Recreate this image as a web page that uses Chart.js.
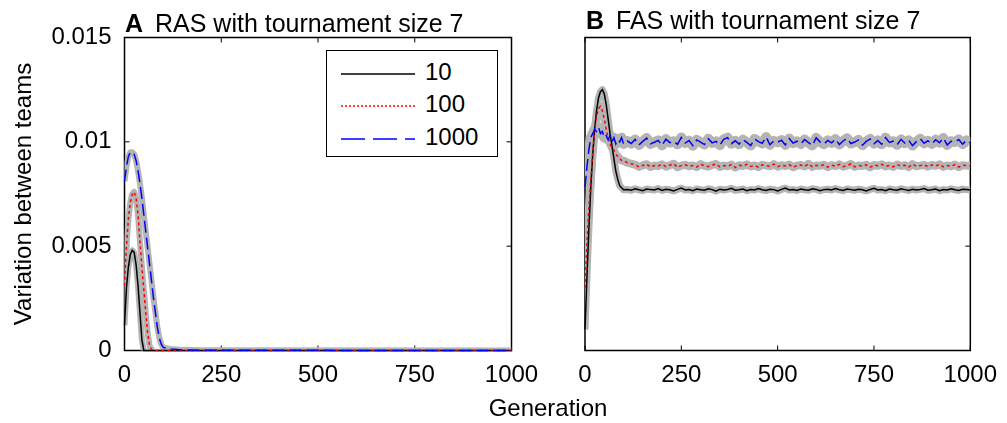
<!DOCTYPE html>
<html lang="en">
<head>
<meta charset="UTF-8">
<title>Variation between teams</title>
<style>
  body { margin: 0; background: #fff; font-family: 'Liberation Sans', Arial, sans-serif; }
  .wrap { position: relative; width: 1007px; height: 423px; overflow: hidden; }
  .wrap canvas { position: absolute; top: 0; }
  .ptitle { position: absolute; font-size: 25px; line-height: 1; white-space: nowrap; color: #000; }
  .ptitle b { margin-right: 5px; }
  .xlabel { position: absolute; left: 448px; top: 394px; width: 200px; text-align: center; font-size: 24px; line-height: 28px; }
  .legend { position: absolute; left: 326px; top: 50px; width: 170px; height: 105px; border: 1.5px solid #000; background: #fff; }
  .legend .row { position: absolute; left: 14px; height: 28px; font-size: 24px; line-height: 28px; }
  .legend svg { vertical-align: middle; margin-right: 10px; }
</style>
</head>
<body>
<div class="wrap">
  <canvas id="chartA" width="560" height="423" style="left:0"></canvas>
  <canvas id="chartB" width="477" height="423" style="left:530px"></canvas>
  <div class="ptitle" style="left:125px; top:11px"><b>A</b> RAS with tournament size 7</div>
  <div class="ptitle" style="left:586px; top:8px"><b>B</b> FAS with tournament size 7</div>
  <div class="xlabel">Generation</div>
  <div class="legend">
    <div class="row" style="top:7px"><svg width="74" height="4"><line x1="0" y1="2" x2="74" y2="2" stroke="#000" stroke-width="1.5"/></svg>10</div>
    <div class="row" style="top:39px"><svg width="74" height="4"><line x1="0" y1="2" x2="74" y2="2" stroke="#f00" stroke-width="1.5" stroke-dasharray="2 2"/></svg>100</div>
    <div class="row" style="top:72px"><svg width="74" height="4"><line x1="0" y1="2" x2="74" y2="2" stroke="#00f" stroke-width="1.5" stroke-dasharray="24 8"/></svg>1000</div>
  </div>
</div>
<script src="https://cdn.jsdelivr.net/npm/chart.js"></script>
<script>
// tick values and labels
const xTicks = [0, 250, 500, 750, 1000];
const xTickLabels = ['0', '250', '500', '750', '1000'];
const yTicks = [0, 0.005, 0.01, 0.015];
const yTickLabels = ['0', '0.005', '0.01', '0.015'];
const seriesNames = ['10', '100', '1000'];

// panel A: RAS
const leftGen = [0, 5, 10, 15, 20, 25, 30, 35, 40, 45, 50, 55, 60, 65, 70, 75, 80, 85, 90, 95, 100, 110, 120, 150, 200, 1000];
const rasSize10 = [0.0012, 0.0030, 0.0040, 0.0046, 0.0048, 0.0047, 0.0041, 0.0031, 0.0018, 0.0005, 0, 0, 0, 0, 0, 0, 0, 0, 0, 0, 0, 0, 0, 0, 0, 0];
const rasSize100 = [0.0031, 0.0050, 0.0063, 0.0071, 0.0075, 0.0076, 0.0073, 0.0065, 0.0052, 0.0040, 0.0029, 0.0018, 0.0008, 0.0002, 0.00005, 0, 0, 0, 0, 0, 0, 0, 0, 0, 0, 0];
const rasSize1000 = [0.0081, 0.0088, 0.0093, 0.0095, 0.0095, 0.0094, 0.0091, 0.0086, 0.0080, 0.0073, 0.0065, 0.0057, 0.0049, 0.0041, 0.0033, 0.0025, 0.0018, 0.0011, 0.0006, 0.0003, 0.00015, 0.0001, 0.00007, 0.00003, 0.00001, 0];

// panel B: FAS
const rightGen = [0, 5, 10, 15, 20, 25, 30, 35, 40, 45, 50, 55, 60, 65, 70, 75, 80, 85, 90, 95, 100,
  110, 120, 130, 140, 150, 160, 170, 180, 190, 200, 210, 220, 230, 240, 250, 260, 270, 280, 290, 300,
  310, 320, 330, 340, 350, 360, 370, 380, 390, 400, 410, 420, 430, 440, 450, 460, 470, 480, 490, 500,
  510, 520, 530, 540, 550, 560, 570, 580, 590, 600, 610, 620, 630, 640, 650, 660, 670, 680, 690, 700,
  710, 720, 730, 740, 750, 760, 770, 780, 790, 800, 810, 820, 830, 840, 850, 860, 870, 880, 890, 900,
  910, 920, 930, 940, 950, 960, 970, 980, 990, 1000];
const fasSize10 = [0.0010, 0.0035, 0.0058, 0.0078, 0.0094, 0.0106, 0.0115, 0.0121, 0.0124, 0.0125, 0.0123, 0.0118, 0.0111, 0.0104, 0.0098, 0.0092, 0.0086, 0.0082, 0.0079, 0.0078, 0.0077,
  0.00772, 0.00768, 0.00775, 0.00770, 0.00766, 0.00774, 0.00771, 0.00769, 0.00776, 0.00767,
  0.00773, 0.00770, 0.00765, 0.00772, 0.00778, 0.00769, 0.00771, 0.00766, 0.00774, 0.00770,
  0.00768, 0.00775, 0.00771, 0.00764, 0.00773, 0.00769, 0.00772, 0.00777, 0.00768, 0.00770,
  0.00774, 0.00766, 0.00771, 0.00769, 0.00776, 0.00770, 0.00767, 0.00773, 0.00771, 0.00765,
  0.00772, 0.00778, 0.00769, 0.00771, 0.00767, 0.00774, 0.00770, 0.00768, 0.00775, 0.00772,
  0.00766, 0.00771, 0.00773, 0.00769, 0.00776, 0.00770, 0.00767, 0.00774, 0.00771, 0.00768,
  0.00773, 0.00770, 0.00765, 0.00772, 0.00777, 0.00769, 0.00771, 0.00766, 0.00774, 0.00770,
  0.00768, 0.00775, 0.00771, 0.00767, 0.00773, 0.00769, 0.00772, 0.00776, 0.00768, 0.00770,
  0.00774, 0.00766, 0.00771, 0.00769, 0.00775, 0.00770, 0.00767, 0.00773, 0.00771, 0.00769];
const fasSize100 = [0.0030, 0.0052, 0.0068, 0.0082, 0.0095, 0.0105, 0.0112, 0.0116, 0.0117, 0.0115, 0.0111, 0.0106, 0.0102, 0.0099, 0.0097, 0.0096, 0.0094, 0.0093, 0.0092, 0.0091, 0.0091,
  0.00900, 0.00895, 0.00891, 0.00880, 0.00887, 0.00893, 0.00879, 0.00886, 0.00884, 0.00892,
  0.00881, 0.00888, 0.00895, 0.00878, 0.00886, 0.00890, 0.00883, 0.00887, 0.00879, 0.00893,
  0.00885, 0.00881, 0.00889, 0.00894, 0.00880, 0.00886, 0.00883, 0.00891, 0.00877, 0.00888,
  0.00884, 0.00892, 0.00882, 0.00887, 0.00879, 0.00890, 0.00886, 0.00883, 0.00893, 0.00881,
  0.00888, 0.00884, 0.00891, 0.00878, 0.00886, 0.00889, 0.00882, 0.00895, 0.00880, 0.00887,
  0.00885, 0.00890, 0.00879, 0.00888, 0.00883, 0.00892, 0.00881, 0.00886, 0.00894, 0.00880,
  0.00887, 0.00884, 0.00890, 0.00878, 0.00889, 0.00885, 0.00892, 0.00882, 0.00887, 0.00880,
  0.00891, 0.00884, 0.00888, 0.00879, 0.00893, 0.00883, 0.00886, 0.00890, 0.00881, 0.00889,
  0.00885, 0.00892, 0.00880, 0.00887, 0.00883, 0.00891, 0.00879, 0.00888, 0.00886, 0.00884];
const fasSize1000 = [0.0078, 0.0088, 0.0096, 0.0102, 0.0104, 0.0106, 0.0105, 0.0107, 0.0104, 0.0105, 0.0102, 0.0103, 0.0101, 0.0103, 0.0100, 0.0102, 0.0099, 0.0101, 0.0100, 0.0102, 0.0099,
  0.01004, 0.00992, 0.01011, 0.00985, 0.01002, 0.01018, 0.00990, 0.00998, 0.01007, 0.00983,
  0.01013, 0.00996, 0.01003, 0.00988, 0.01021, 0.00994, 0.01006, 0.00981, 0.01009, 0.00999,
  0.00987, 0.01015, 0.00995, 0.01002, 0.00984, 0.01012, 0.01020, 0.00991, 0.01005, 0.00989,
  0.01010, 0.00997, 0.00982, 0.01014, 0.01001, 0.00993, 0.01023, 0.00986, 0.01004, 0.00998,
  0.01008, 0.00985, 0.01016, 0.00994, 0.01003, 0.00990, 0.01011, 0.00996, 0.00983, 0.01019,
  0.01000, 0.00989, 0.01007, 0.00995, 0.01013, 0.00987, 0.01004, 0.01017, 0.00992, 0.00999,
  0.01009, 0.00984, 0.01002, 0.01014, 0.00991, 0.01006, 0.00988, 0.01020, 0.00997, 0.01003,
  0.00986, 0.01012, 0.00994, 0.01008, 0.00982, 0.01001, 0.01015, 0.00993, 0.01005, 0.00990,
  0.01010, 0.00996, 0.01018, 0.00985, 0.01003, 0.00999, 0.01011, 0.00989, 0.01007, 0.00995];

const lineColors = ['#000000', '#ff0000', '#0000ff'];
const lineDashes = [[], [3, 3], [12, 5]];
const bandColor = 'rgb(180,180,180)';
const tickFont = { family: "'Liberation Sans', Arial, sans-serif", size: 24 };

function pts(gen, vals) {
    return gen.map((g, i) => ({ x: g, y: vals[i] }));
}

function buildDatasets(gen, seriesList, bandWidths) {
    const sets = [];
    // grey bands behind, hidden where the run has died out at zero
    seriesList.forEach((vals, i) => {
        sets.push({ label: seriesNames[i] + ' band', data: pts(gen, vals), borderColor: bandColor,
            borderWidth: bandWidths[i], pointRadius: 0, order: 5, clip: 0, borderJoinStyle: 'round',
            segment: { borderColor: c => (c.p0.parsed.y === 0 && c.p1.parsed.y === 0) ? 'rgba(0,0,0,0)' : bandColor } });
    });
    seriesList.forEach((vals, i) => {
        sets.push({ label: seriesNames[i], data: pts(gen, vals), borderColor: lineColors[i],
            borderWidth: 1.5, borderDash: lineDashes[i], pointRadius: 0, order: 3 - i, clip: 3 });
    });
    return sets;
}

// box round the plot with inward ticks, like the original figure
const framePlugin = {
    id: 'frame',
    beforeDatasetsDraw(chart) {
        const { ctx, chartArea: a, scales } = chart;
        ctx.save();
        ctx.strokeStyle = '#000';
        ctx.lineWidth = 1.5;
        ctx.strokeRect(a.left, a.top, a.right - a.left, a.bottom - a.top);
        ctx.lineWidth = 1;
        ctx.beginPath();
        xTicks.forEach(v => {
            const px = scales.x.getPixelForValue(v);
            ctx.moveTo(px, a.bottom); ctx.lineTo(px, a.bottom - 5);
            ctx.moveTo(px, a.top); ctx.lineTo(px, a.top + 5);
        });
        yTicks.forEach(v => {
            const py = scales.y.getPixelForValue(v);
            ctx.moveTo(a.left, py); ctx.lineTo(a.left + 5, py);
            ctx.moveTo(a.right, py); ctx.lineTo(a.right - 5, py);
        });
        ctx.stroke();
        ctx.restore();
    }
};

function xScale() {
    return {
        type: 'linear', min: 0, max: 1000,
        afterBuildTicks: s => { s.ticks = xTicks.map(v => ({ value: v })); },
        afterFit: s => { s.height = 50; },
        grid: { display: false, drawTicks: false },
        border: { display: false },
        ticks: { font: tickFont, color: '#000', padding: 10, maxRotation: 0,
            callback: (v, i) => xTickLabels[i] }
    };
}

function yScale(showLabels) {
    return {
        type: 'linear', min: 0, max: 0.015,
        afterBuildTicks: s => { s.ticks = yTicks.map(v => ({ value: v })); },
        afterFit: s => { s.width = showLabels ? 124.5 : 55; },
        grid: { display: false, drawTicks: false },
        border: { display: false },
        ticks: { display: showLabels, font: tickFont, color: '#000', padding: 13, callback: (v, i) => yTickLabels[i] },
        title: { display: showLabels, text: 'Variation between teams', color: '#000',
            font: tickFont, padding: { top: 10, bottom: 0 } }
    };
}

const baseOptions = (padRight, showY) => ({
    responsive: false,
    animation: false,
    layout: { padding: { left: 0, right: padRight, top: 37.5, bottom: 22.5 } },
    plugins: { legend: { display: false }, tooltip: { enabled: false } },
    scales: { x: xScale(), y: yScale(showY) }
});

new Chart(document.getElementById('chartA'), {
    type: 'line',
    data: { datasets: buildDatasets(leftGen, [rasSize10, rasSize100, rasSize1000], [6, 6, 6]) },
    options: baseOptions(48.5, true),
    plugins: [framePlugin]
});

new Chart(document.getElementById('chartB'), {
    type: 'line',
    data: { datasets: buildDatasets(rightGen, [fasSize10, fasSize100, fasSize1000], [7, 8, 10]) },
    options: baseOptions(35, false),
    plugins: [framePlugin]
});
</script>
</body>
</html>
